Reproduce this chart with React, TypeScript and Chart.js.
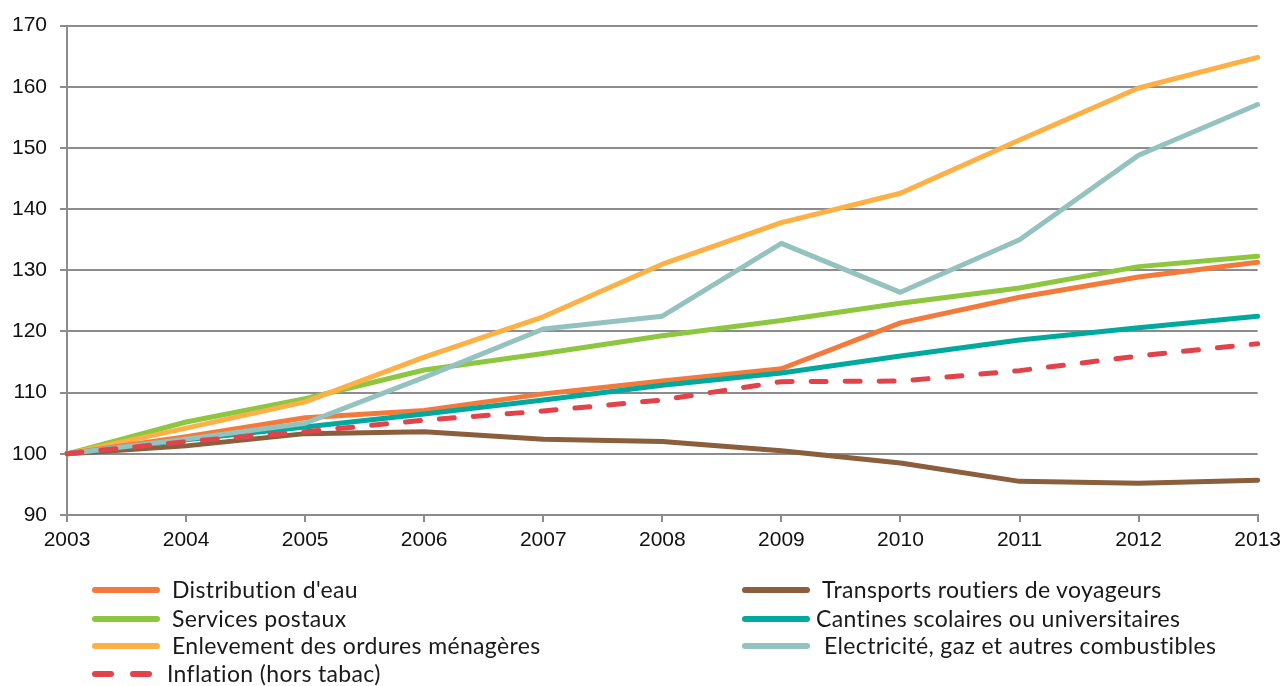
import React, { useEffect, useRef } from "react";
import { Chart, registerables } from "chart.js";

Chart.register(...registerables);

const years = ["2003", "2004", "2005", "2006", "2007", "2008", "2009", "2010", "2011", "2012", "2013"];
const yTicks = [90, 100, 110, 120, 130, 140, 150, 160, 170];

const distributionEau = [100, 102.8, 105.9, 107.1, 109.8, 111.9, 113.9, 121.4, 125.6, 128.9, 131.3];
const transportsRoutiers = [100, 101.3, 103.3, 103.6, 102.4, 102.0, 100.5, 98.5, 95.5, 95.2, 95.7];
const servicesPostaux = [100, 105.2, 109.0, 113.7, 116.4, 119.3, 121.8, 124.6, 127.1, 130.6, 132.3];
const cantines = [100, 102.3, 104.4, 106.5, 108.8, 111.2, 113.2, 116.0, 118.6, 120.6, 122.5];
const enlevement = [100, 104.2, 108.5, 115.8, 122.4, 131.0, 137.8, 142.6, 151.3, 159.8, 164.8];
const electricite = [100, 102.4, 105.0, 112.5, 120.4, 122.5, 134.4, 126.4, 135.0, 148.8, 157.1];
const inflation = [100, 102.0, 103.6, 105.5, 107.0, 108.8, 111.8, 111.9, 113.6, 116.0, 118.0];

const names = {
  eau: "Distribution d'eau",
  transports: "Transports routiers de voyageurs",
  postaux: "Services postaux",
  cantines: "Cantines scolaires ou universitaires",
  enlevement: "Enlevement des ordures ménagères",
  electricite: "Electricité, gaz et autres combustibles",
  inflation: "Inflation (hors tabac)",
};

const colors = {
  eau: "#F47A3C",
  transports: "#8B5E3C",
  postaux: "#8DC63F",
  cantines: "#00A99D",
  enlevement: "#FDB045",
  electricite: "#93C2BF",
  inflation: "#E2434B",
};

const GRID = "#8c8c8e";

export default function App() {
  const ref = useRef<HTMLCanvasElement | null>(null);

  useEffect(() => {
    if (!ref.current) return;
    const mk = (label: string, data: number[], color: string, extra: any = {}) => ({
      label,
      data,
      borderColor: color,
      backgroundColor: color,
      borderWidth: 5,
      pointRadius: 0,
      tension: 0,
      fill: false,
      borderCapStyle: "round" as const,
      borderJoinStyle: "round" as const,
      ...extra,
    });
    const chart = new Chart(ref.current, {
      type: "line",
      data: {
        labels: years,
        datasets: [
          mk(names.inflation, inflation, colors.inflation, { borderDash: [15, 19] }),
          mk(names.electricite, electricite, colors.electricite),
          mk(names.cantines, cantines, colors.cantines),
          mk(names.eau, distributionEau, colors.eau),
          mk(names.enlevement, enlevement, colors.enlevement),
          mk(names.postaux, servicesPostaux, colors.postaux),
          mk(names.transports, transportsRoutiers, colors.transports),
        ],
      },
      options: {
        animation: false,
        responsive: false,
        layout: { padding: { top: 25, right: 27, left: 0, bottom: 0 } },
        plugins: { legend: { display: false }, tooltip: { enabled: false } },
        scales: {
          x: {
            type: "category",
            offset: false,
            grid: { drawOnChartArea: false, drawTicks: true, tickLength: 7, color: GRID, lineWidth: 2 },
            border: { display: true, color: GRID, width: 2 },
            ticks: {
              color: "#111",
              font: { family: "'Liberation Sans', Arial, sans-serif", size: 21 },
              padding: 6,
              maxRotation: 0,
              autoSkip: false,
            },
            afterFit: (s: any) => {
              s.height = 171;
            },
          },
          y: {
            min: 90,
            max: 170,
            afterBuildTicks: (s: any) => {
              s.ticks = yTicks.map((v) => ({ value: v }));
            },
            grid: { color: GRID, lineWidth: 2, tickLength: 7, drawTicks: true },
            border: { display: true, color: GRID, width: 2 },
            ticks: {
              color: "#111",
              font: { family: "'Liberation Sans', Arial, sans-serif", size: 21 },
              padding: 13,
            },
            afterFit: (s: any) => {
              s.width = 67;
            },
          },
        },
      },
    });
    return () => chart.destroy();
  }, []);

  const legendFont: React.CSSProperties = {
    fontFamily: "Lato, 'Open Sans', sans-serif",
    fontSize: 23,
    letterSpacing: "0.35px",
    color: "#1a1a1a",
    position: "absolute",
    whiteSpace: "nowrap",
    lineHeight: "26px",
  };

  const solid = (x: number, y: number, color: string) => (
    <div
      style={{
        position: "absolute",
        left: x,
        top: y - 3,
        width: 68,
        height: 6,
        borderRadius: 3,
        background: color,
      }}
    />
  );

  const rowsLeft = [
    { key: "eau", y: 590 },
    { key: "postaux", y: 619 },
    { key: "enlevement", y: 646 },
  ];
  const rowsRight = [
    { key: "transports", y: 590, tx: 822 },
    { key: "cantines", y: 619, tx: 816 },
    { key: "electricite", y: 646, tx: 824 },
  ];

  return (
    <div style={{ position: "absolute", left: 0, top: 0, width: 1287, height: 686, background: "#fff", overflow: "hidden" }}>
      <canvas ref={ref} width={1287} height={686} style={{ position: "absolute", left: 0, top: 0, width: 1287, height: 686 }} />
      {rowsLeft.map((r) => (
        <React.Fragment key={r.key}>
          {solid(92, r.y, (colors as any)[r.key])}
          <div style={{ ...legendFont, left: 172, top: r.y - 14 }}>{(names as any)[r.key]}</div>
        </React.Fragment>
      ))}
      <div style={{ position: "absolute", left: 92, top: 674 - 3, width: 22, height: 6, borderRadius: 3, background: colors.inflation }} />
      <div style={{ position: "absolute", left: 130, top: 674 - 3, width: 22, height: 6, borderRadius: 3, background: colors.inflation }} />
      <div style={{ ...legendFont, left: 167, top: 674 - 14 }}>{names.inflation}</div>
      {rowsRight.map((r) => (
        <React.Fragment key={r.key}>
          {solid(742, r.y, (colors as any)[r.key])}
          <div style={{ ...legendFont, left: r.tx, top: r.y - 14 }}>{(names as any)[r.key]}</div>
        </React.Fragment>
      ))}
    </div>
  );
}
